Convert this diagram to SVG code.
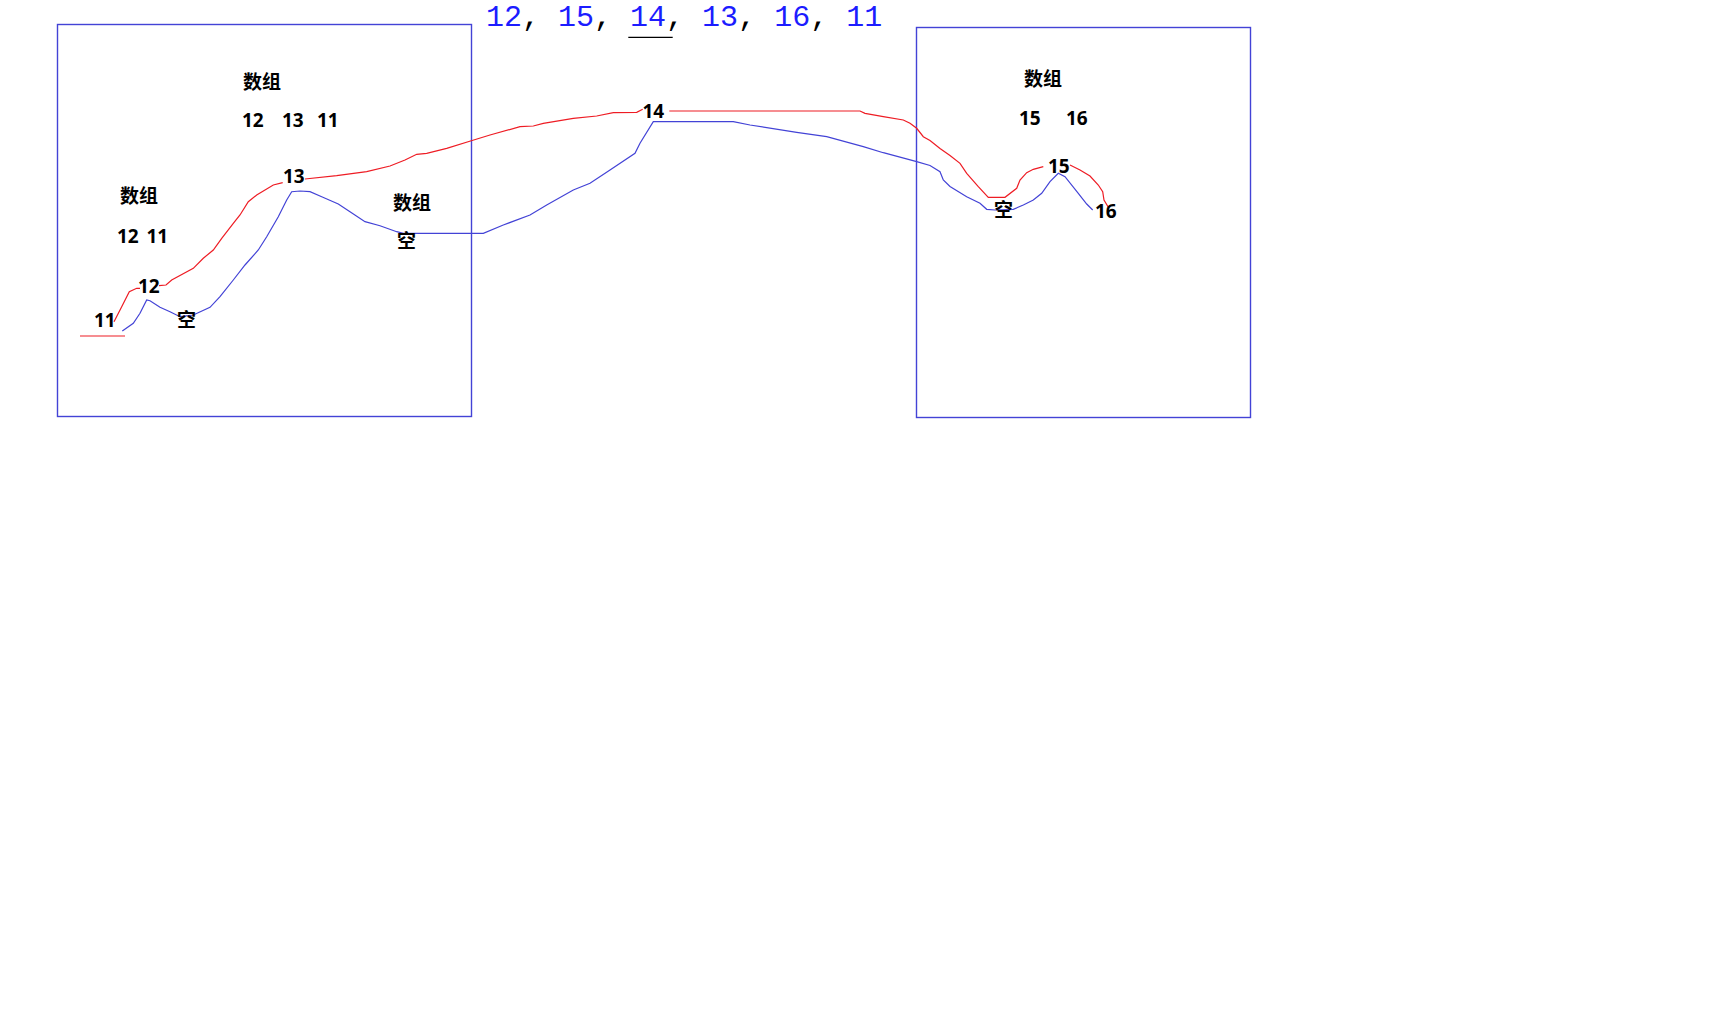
<svg xmlns="http://www.w3.org/2000/svg" width="1736" height="1012" viewBox="0 0 1736 1012">
<style>
.box{fill:none;stroke:#4343d6;stroke-width:1.4}
.lbl{font-family:"Noto Sans","Noto Sans CJK SC",sans-serif;font-weight:bold;font-size:19px;fill:#000}
.red{fill:none;stroke:#ee1c24;stroke-width:1.2}
.blue{fill:none;stroke:#4343d6;stroke-width:1.2}
.title{font-family:"Liberation Mono",monospace;font-size:30px;fill:#1c1cff}
.comma{fill:#000}
</style>
<rect width="1736" height="1012" fill="#fff"/>
<g id="title">
<text class="title" x="486" y="26">12<tspan class="comma">,</tspan> 15<tspan class="comma">,</tspan> 14<tspan class="comma">,</tspan> 13<tspan class="comma">,</tspan> 16<tspan class="comma">,</tspan> 11</text>
<line x1="628.3" y1="37.3" x2="672.7" y2="37.3" stroke="#000" stroke-width="1.2"/>
</g>
<g id="box-left"><rect class="box" x="57.5" y="24.5" width="414" height="392"/></g>
<g id="box-right"><rect class="box" x="916.5" y="27.5" width="334" height="390"/></g>
<g id="connectors">
<polyline class="red" points="80,336 125,336"/>
<polyline class="red" points="114,321.7 121.7,306.7 129.3,291.7 136.7,288.3 140,288.3"/>
<polyline class="red" points="159,285.7 166,285 171.7,280 193.3,268.3 203.3,258.3 213.3,250 221.7,238.3 233.3,223.3 240,215 248.3,201.7 256.7,195 273.3,185 282.7,182.7"/>
<polyline class="red" points="305,179 336.7,175.7 366.7,171.7 390,166 405,160 416.7,154.3 426.7,153.3 446.7,148.3 471.3,140.7 490,135 520,126.7 533.3,126 543.3,123.3 573.3,118.3 596.7,116 613.3,112.7 636.7,112.3 642.7,109.3"/>
<polyline class="red" points="669.3,111 860,111 865,113.3 883.3,116.7 903.3,120 910,123.3 916.7,128.3 923.3,136.7 930,140.5 940,148.5 950,155.5 960,163.3 966.7,173.3 978.3,186.7 988.3,197.3 1005,197.3 1016.7,188.3 1020,180 1026.7,172.7 1033.3,169.3 1043.3,166.7"/>
<polyline class="red" points="1070,165 1080,170 1090,176 1098.3,185 1102.7,191.7 1104,200 1108.3,207.3"/>
<polyline class="blue" points="122.3,331 133.3,323.3 140,313.3 146.7,300 150,300.7 160,307.3 170,311.7 180,316.7 193.3,315 210,307.3 220,296.7 233.3,280 245,265 258.3,250 266.7,236.7 278.3,216.7 286.7,200 291.7,191.7 300,191 310,191.7 321.7,196.7 338.3,204 350,211.7 365,221.7 380,225.7 396.7,231.7 403.3,233.3 483.3,233.3 503.3,225 530,215 546.7,205 573.3,190 590,183.3 610,170 635,153.3 640,143.3 653.3,121.7 733.3,121.7 750,125 796.7,132.3 826.7,136.7 863.3,146.7 883.3,152.7 916.7,161.7 930,165.5 940,171.7 943.3,180 950,186.5 966.7,196.7 980,203.3 986.7,209.3 995,210 1013.3,209.3 1023.3,205 1033.3,200 1041.7,193.3 1050,181.7 1058.3,173.3 1065,176.7 1078.3,193.3 1086.7,204 1092.7,210"/>
</g>
<g id="left-array-top">
<text class="lbl" x="243" y="89">数组</text>
<text class="lbl" x="242" y="126.5">12</text>
<text class="lbl" x="282" y="126.5">13</text>
<text class="lbl" x="317" y="126.5">11</text>
</g>
<g id="left-array-mid">
<text class="lbl" x="120" y="203">数组</text>
<text class="lbl" x="117" y="243">12</text>
<text class="lbl" x="146.5" y="243">11</text>
</g>
<g id="left-array-empty">
<text class="lbl" x="393" y="209.5">数组</text>
<text class="lbl" x="397" y="248">空</text>
</g>
<g id="node-11"><text class="lbl" x="94" y="327">11</text></g>
<g id="node-12"><text class="lbl" x="138" y="292.5">12</text></g>
<g id="node-empty-1"><text class="lbl" x="177" y="327">空</text></g>
<g id="node-13"><text class="lbl" x="283" y="182.7">13</text></g>
<g id="node-14"><text class="lbl" x="642.5" y="118.3">14</text></g>
<g id="right-array">
<text class="lbl" x="1024" y="86">数组</text>
<text class="lbl" x="1019" y="125.3">15</text>
<text class="lbl" x="1066" y="125.3">16</text>
</g>
<g id="node-empty-2"><text class="lbl" x="994" y="217">空</text></g>
<g id="node-15"><text class="lbl" x="1048" y="172.7">15</text></g>
<g id="node-16"><text class="lbl" x="1095" y="218.3">16</text></g>
</svg>
